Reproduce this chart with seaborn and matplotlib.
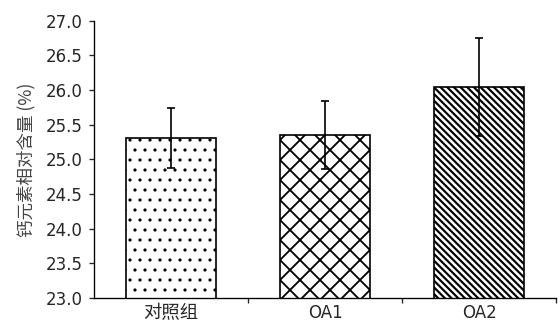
import matplotlib
matplotlib.use('Agg')
from matplotlib import pyplot as plt
import pandas as pd
import numpy as np
import seaborn as sns

groups = ['对照组', 'OA1', 'OA2']
means = [25.31, 25.35, 26.04]
errs = [0.43, 0.49, 0.71]
hatches = ['..', 'xx', '\\\\\\\\\\\\']
hatch_lw = [0.7, 1.1, 1.3]
yticks = [23.0, 23.5, 24.0, 24.5, 25.0, 25.5, 26.0, 26.5, 27.0]

df = pd.DataFrame({'group': groups, 'value': means})

sns.set_style('ticks')
plt.rcParams['font.family'] = ['DejaVu Sans', 'Noto Sans CJK SC']
plt.rcParams['hatch.linewidth'] = 1.3
plt.rcParams['hatch.color'] = 'black'

fig = plt.figure(figsize=(4.65, 2.725), dpi=120)
ax = fig.add_axes([0.1685, 0.0887, 0.828, 0.848])

sns.barplot(data=df, x='group', y='value', color='white', edgecolor='black',
            linewidth=1.0, width=0.58, errorbar=None, ax=ax)
for patch, h, lw in zip(ax.patches, hatches, hatch_lw):
    patch.set_hatch(h)
    patch.set_facecolor('white')
    patch.set_edgecolor('black')
    if hasattr(patch, 'set_hatch_linewidth'):
        patch.set_hatch_linewidth(lw)

ax.errorbar(np.arange(len(groups)), means, yerr=errs, fmt='none',
            ecolor='black', elinewidth=1.0, capsize=2.2, capthick=1.0, zorder=5)

ax.set_ylim(23.0, 27.0)
ax.set_yticks(yticks)
ax.set_yticklabels([f'{v:.1f}' for v in yticks], fontsize=10)
ax.set_xlim(-0.5, 2.5)
ax.set_xticks(np.arange(len(groups)))
ax.set_xticklabels(groups, fontsize=10)
labs = ax.get_xticklabels()
labs[0].set_family(['Noto Sans CJK SC', 'DejaVu Sans'])
labs[0].set_fontsize(11)
ax.tick_params(axis='x', which='major', length=0, pad=3.5)
ax.set_xticks([0.5, 1.5, 2.5], minor=True)
ax.tick_params(axis='x', which='minor', length=3, width=0.8, direction='out')
ax.tick_params(axis='y', length=3, width=0.8, direction='out', pad=4)

ax.set_xlabel('')
ax.set_ylabel('钙元素相对含量 (%)', fontsize=10.5, color='#444444',
              family=['Noto Sans CJK SC', 'DejaVu Sans'], labelpad=6)

sns.despine(ax=ax)
for s in ['left', 'bottom']:
    ax.spines[s].set_linewidth(0.8)
    ax.spines[s].set_color('black')

fig.savefig('out.png', dpi=120, facecolor='white')
